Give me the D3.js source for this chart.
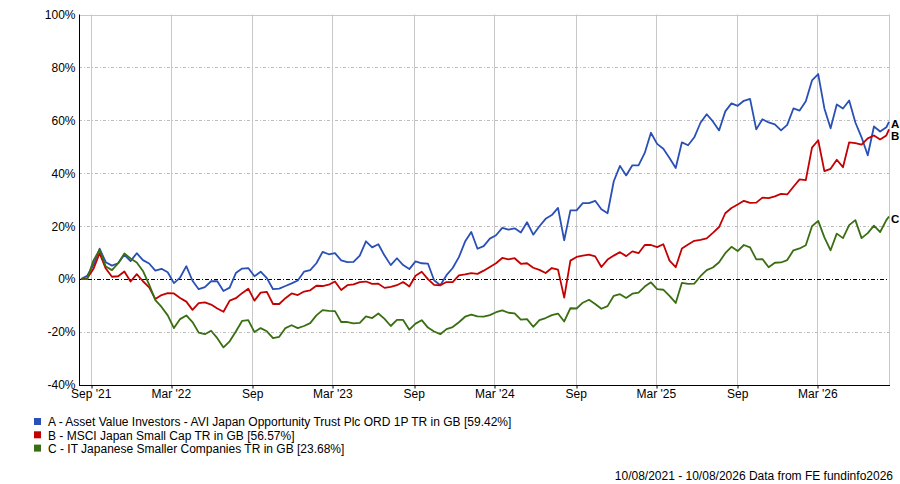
<!DOCTYPE html>
<html>
<head>
<meta charset="utf-8">
<script src="https://cdn.jsdelivr.net/npm/d3@7"></script>
<style>
  html, body { margin: 0; padding: 0; background: #fff; }
  svg { display: block; }
  text { font-family: "Liberation Sans", Arial, sans-serif; }
</style>
</head>
<body>
<svg id="chart" width="900" height="484"></svg>
<script>
// ---------------- DATA ----------------
const startDate = "2021-08-10";
const endDate = "2026-08-10";
const stepDays = 14; // sampling interval of the series values below

const seriesNames = [
  "A - Asset Value Investors - AVI Japan Opportunity Trust Plc ORD 1P TR in GB [59.42%]",
  "B - MSCI Japan Small Cap TR in GB [56.57%]",
  "C - IT Japanese Smaller Companies TR in GB [23.68%]"
];
const seriesLetters = ["A", "B", "C"];
const seriesColors = ["#2a50b6", "#c40000", "#3a6e12"];

const valuesA = [
  0, 1.3, 5.3, 11.5, 6.4, 5.1, 6.0, 9.2, 6.8, 9.8,
  7.2, 5.9, 3.2, 3.9, 2.6, -1.5, 0.6, 4.9, -0.6, -3.8,
  -3.0, -0.8, -0.8, -4.5, -3.2, 2.3, 4.0, 4.2, 1.1, 2.8,
  0.4, -3.8, -3.6, -2.6, -1.6, -0.5, 2.8, 3.4, 6.0, 10.3,
  9.4, 9.8, 7.1, 6.4, 6.5, 8.9, 14.3, 12.0, 13.2, 8.9,
  5.3, 7.9, 5.3, 3.8, 6.7, 6.0, 5.9, -0.4, -2.3, 1.5,
  4.2, 8.3, 14.2, 17.8, 11.5, 12.5, 15.3, 16.6, 19.4, 18.7,
  19.2, 17.6, 21.5, 16.8, 20.0, 22.8, 24.2, 26.9, 14.7, 26.0,
  26.0, 28.7, 28.7, 29.6, 26.4, 24.9, 37.0, 42.8, 39.2, 43.0,
  43.0, 47.7, 55.3, 51.1, 49.3, 45.8, 42.0, 51.7, 50.6, 53.6,
  59.1, 62.3, 59.6, 56.2, 63.4, 66.4, 65.5, 67.4, 68.1, 56.6,
  60.4, 59.2, 58.5, 56.2, 58.3, 64.5, 63.7, 67.2, 75.1, 77.5,
  64.5, 57.0, 66.0, 64.5, 67.5, 59.2, 53.6, 46.8, 57.7, 55.8,
  57.4, 59.42
];
const valuesB = [
  0, 0.3, 3.8, 9.8, 4.0, 0.9, 1.1, 2.9, -0.9, 1.9,
  -0.8, -3.1, -7.5, -6.0, -5.3, -5.4, -7.1, -8.5, -11.6, -9.1,
  -8.8, -9.6, -11.1, -12.3, -8.1, -7.2, -5.3, -3.6, -8.1, -5.1,
  -4.8, -9.4, -9.4, -7.2, -5.4, -6.0, -4.7, -4.2, -2.5, -2.6,
  -2.1, -0.9, -4.1, -2.3, -2.0, -1.1, -0.9, -1.8, -1.7, -3.3,
  -2.9, -2.3, -1.1, -2.8, 1.3, 2.8, 0, -2.2, -2.3, -1.1,
  -1.1, 1.4, 1.8, 2.3, 2.0, 3.2, 4.6, 6.0, 8.0, 7.5,
  7.9, 5.8, 6.0, 4.3, 3.5, 2.3, 4.2, 3.6, -7.0, 7.0,
  8.4, 8.9, 9.3, 8.6, 4.6, 7.4, 8.9, 10.2, 8.7, 10.5,
  9.8, 12.9, 12.9, 12.1, 13.2, 7.0, 4.5, 11.6, 13.1, 14.5,
  14.8, 15.4, 17.5, 19.7, 24.9, 26.9, 28.2, 29.6, 28.8, 28.9,
  30.8, 30.6, 31.3, 32.2, 32.0, 34.9, 37.7, 37.4, 49.7, 52.5,
  40.8, 41.7, 45.1, 42.3, 51.7, 51.4, 50.8, 53.2, 54.3, 52.8,
  54.3, 56.57
];
const valuesC = [
  0, 0, 7.0, 11.1, 4.8, 3.4, 6.0, 9.7, 7.8, 6.3,
  3.1, -2.1, -7.9, -10.5, -13.7, -18.5, -15.1, -13.7, -16.2, -20.2,
  -20.8, -19.5, -22.3, -25.8, -23.5, -19.8, -15.8, -15.5, -20.0, -18.5,
  -19.7, -22.3, -21.8, -18.5, -17.4, -18.5, -17.7, -16.6, -13.7, -11.7,
  -12.0, -12.1, -16.2, -16.2, -16.7, -16.5, -14.1, -14.7, -13.0, -15.0,
  -17.7, -15.4, -15.4, -19.1, -16.8, -15.5, -18.3, -19.8, -20.8, -18.9,
  -18.1, -16.3, -14.2, -13.4, -14.1, -14.2, -13.6, -12.5, -11.8, -12.7,
  -12.9, -15.3, -15.1, -18.0, -15.5, -14.7, -13.6, -13.0, -16.0, -11.0,
  -11.1, -8.9, -7.8, -9.4, -11.2, -10.2, -6.3, -5.7, -7.1, -5.5,
  -5.1, -2.8, -1.2, -3.8, -4.0, -6.3, -9.0, -1.4, -1.8, -1.7,
  1.1, 3.4, 4.4, 6.4, 9.8, 12.2, 10.6, 12.9, 12.0, 7.5,
  7.6, 4.5, 6.2, 6.3, 7.2, 10.9, 11.6, 12.8, 20.0, 22.0,
  15.8, 10.9, 17.2, 15.5, 20.4, 22.3, 15.5, 17.4, 20.2, 17.8,
  22.3, 23.68
];

const yTicks = [100, 80, 60, 40, 20, 0, -20, -40];
const xTickDates = ["2021-09-01", "2022-03-01", "2022-09-01", "2023-03-01", "2023-09-01",
                    "2024-03-01", "2024-09-01", "2025-03-01", "2025-09-01", "2026-03-01"];
const xTickLabels = ["Sep '21", "Mar '22", "Sep", "Mar '23", "Sep",
                     "Mar '24", "Sep", "Mar '25", "Sep", "Mar '26"];
const footerText = "10/08/2021 - 10/08/2026 Data from FE fundinfo2026";

// ---------------- BUILD ----------------
const parse = d3.utcParse("%Y-%m-%d");
const t0 = parse(startDate), t1 = parse(endDate);
function datesFor(n) {
  const out = [];
  for (let i = 0; i < n - 1; i++) out.push(d3.utcDay.offset(t0, i * stepDays));
  out.push(t1);
  return out;
}
const allValues = [valuesA, valuesB, valuesC];
const series = allValues.map((vals, i) => {
  const ds = datesFor(vals.length);
  return { name: seriesNames[i], letter: seriesLetters[i], color: seriesColors[i],
           points: vals.map((v, j) => ({ date: ds[j], value: v })) };
});

const frame = { left: 79, right: 889, top: 14.5, bottom: 385 };
const x = d3.scaleUtc().domain([t0, t1]).range([81, 889]);
const y = d3.scaleLinear().domain([-40, 100]).range([frame.bottom, frame.top]);

const svg = d3.select("#chart");

// vertical grid
const tickDates = xTickDates.map(parse);
svg.append("g").selectAll("line").data(tickDates).join("line")
  .attr("x1", d => Math.round(x(d)) + 0.5).attr("x2", d => Math.round(x(d)) + 0.5)
  .attr("y1", frame.top).attr("y2", frame.bottom)
  .attr("stroke", "#c8c8c8").attr("stroke-width", 1);

// horizontal grid
svg.append("g").selectAll("line").data(yTicks.filter(v => v !== 0 && v !== -40 && v !== 100)).join("line")
  .attr("x1", frame.left).attr("x2", frame.right)
  .attr("y1", d => Math.round(y(d)) + 0.5).attr("y2", d => Math.round(y(d)) + 0.5)
  .attr("stroke", "#bdbdbd").attr("stroke-width", 1).attr("stroke-dasharray", "3,2,1,2");

// top and right border
svg.append("line").attr("x1", frame.left).attr("x2", frame.right + 0.5)
  .attr("y1", Math.round(frame.top) + 0.5).attr("y2", Math.round(frame.top) + 0.5)
  .attr("stroke", "#c8c8c8");
svg.append("line").attr("x1", frame.right + 0.5).attr("x2", frame.right + 0.5)
  .attr("y1", frame.top).attr("y2", frame.bottom)
  .attr("stroke", "#c8c8c8");

// zero line
svg.append("line").attr("x1", frame.left).attr("x2", frame.right)
  .attr("y1", Math.round(y(0)) + 0.5).attr("y2", Math.round(y(0)) + 0.5)
  .attr("stroke", "#000").attr("stroke-width", 1).attr("stroke-dasharray", "4,2,1,2");

// series lines
const line = d3.line().x(d => x(d.date)).y(d => y(d.value));
svg.append("g").selectAll("path").data(series).join("path")
  .attr("d", d => line(d.points))
  .attr("fill", "none").attr("stroke", d => d.color)
  .attr("stroke-width", 1.8).attr("stroke-linejoin", "round");

// axes
const yAxis = d3.axisLeft(y).tickValues(yTicks).tickFormat(d => d + "%").tickSize(0).tickPadding(4);
const gy = svg.append("g").attr("transform", `translate(${frame.left + 0.5},0)`).call(yAxis);
gy.select(".domain").attr("stroke", "#000").attr("d", `M0,${frame.top}V${frame.bottom + 0.5}`);
gy.selectAll("text").attr("font-size", 12).attr("fill", "#000")
  .attr("font-family", "'Liberation Sans', Arial, sans-serif");

const xAxis = d3.axisBottom(x).tickValues(tickDates)
  .tickFormat((d, i) => xTickLabels[i]).tickSize(3).tickPadding(1);
const gx = svg.append("g").attr("transform", `translate(0,${frame.bottom + 0.5})`).call(xAxis);
gx.select(".domain").attr("stroke", "#000").attr("d", `M${frame.left},0H${frame.right + 1}`);
gx.selectAll(".tick line").attr("stroke", "#000")
  .attr("transform", d => `translate(${Math.round(x(d)) + 0.5 - x(d)},0)`);
gx.selectAll("text").attr("font-size", 12).attr("fill", "#000")
  .attr("font-family", "'Liberation Sans', Arial, sans-serif");

// end labels with simple collision avoidance
const ends = series.map(s => ({ letter: s.letter, yy: y(s.points[s.points.length - 1].value) + 2 }))
  .sort((a, b) => a.yy - b.yy);
for (let i = 1; i < ends.length; i++) {
  if (ends[i].yy - ends[i - 1].yy < 12) ends[i].yy = ends[i - 1].yy + 12;
}
svg.append("g").selectAll("text").data(ends).join("text")
  .attr("x", 891).attr("y", d => d.yy).attr("dy", "0.35em")
  .attr("font-size", 11.5).attr("font-weight", "bold").attr("fill", "#000")
  .text(d => d.letter);

// legend
const lg = svg.append("g").attr("transform", "translate(34,418)");
const rows = lg.selectAll("g").data(series).join("g")
  .attr("transform", (d, i) => `translate(0,${i * 13.3})`);
rows.append("rect").attr("width", 7).attr("height", 7).attr("fill", d => d.color);
rows.append("text").attr("x", 14).attr("y", 4).attr("dy", "0.35em")
  .attr("font-size", 12).attr("fill", "#000").text(d => d.name);

// footer
svg.append("text").attr("x", 893).attr("y", 476).attr("dy", "0.35em")
  .attr("text-anchor", "end").attr("font-size", 12).attr("fill", "#000")
  .text(footerText);
</script>
</body>
</html>
